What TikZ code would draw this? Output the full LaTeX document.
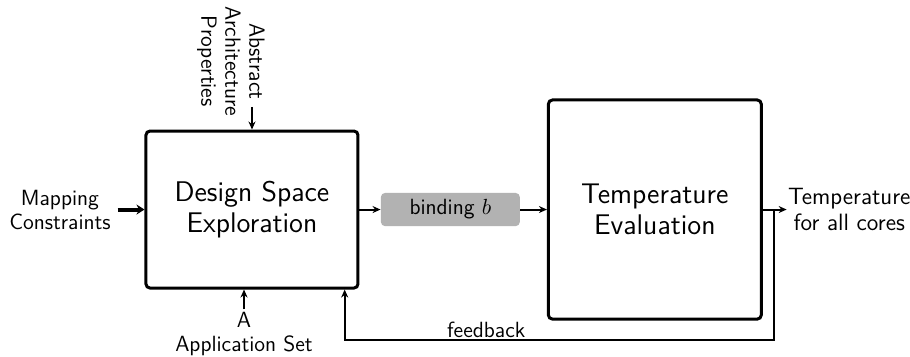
\documentclass[tikz,border=0pt]{standalone}
\usetikzlibrary{positioning, arrows.meta}

\begin{document}
\begin{tikzpicture}[
    font=\sffamily\fontsize{11}{12}\selectfont,
    stage/.style={rectangle, draw, line width=1.5pt, rounded corners=2pt,
                  align=center, font=\sffamily\fontsize{14.2}{15.5}\selectfont},
    tag/.style={rectangle, fill=black!30, rounded corners=2pt,
                minimum width=2.44cm, minimum height=0.545cm},
    arrow/.style={-{Stealth[length=4pt, width=3.5pt]}, line width=1pt},
    fatarrow/.style={-{Stealth[length=4pt, width=5pt]}, line width=2pt},
  ]
  \useasboundingbox (-4.428,-2.574) rectangle (11.563,3.682);
  \node[stage, minimum width=3.725cm, minimum height=2.759cm] (dse) at (0,0) {Design Space\\Exploration};
  \node[tag, right=0.37cm of dse] (bind) {binding $b$};
  \node[stage, minimum width=3.74cm, minimum height=3.85cm, right=0.47cm of bind] (temp) {Temperature\\Evaluation};
  \node[left=0.47cm of dse, align=center] (map) {Mapping\\Constraints};
  \node[right=0.42cm of temp, align=center, inner sep=0.5pt,
        font=\sffamily\fontsize{11.8}{13}\selectfont] (tout) {Temperature\\for all cores};
  \node[below=0.35cm of dse, xshift=-0.14cm, align=center, inner sep=1pt] (app) {A\\Application Set};
  \coordinate[above=0.4cm of dse.north] (archin);
  \node[rotate=-90, align=center, inner sep=1pt] (arch) at ([xshift=-0.37cm, yshift=0.8cm]archin) {Abstract\\Architecture\\Properties};
  % inputs and outputs
  \draw[fatarrow] (map) -- (dse);
  \draw[arrow] (archin) -- (dse.north);
  \draw[arrow] (app.north) -- (app.north |- dse.south);
  \draw[arrow] (dse) -- (bind);
  \draw[arrow] (bind) -- (temp);
  \draw[arrow] (temp) -- (tout);
  % feedback loop
  \coordinate[below right=2.3cm and 0.19cm of temp.east] (fbturn);
  \coordinate[left=0.26cm of dse.south east] (fbend);
  \draw[arrow] (fbturn |- temp.east) -- (fbturn)
        -- node[above, pos=0.67, inner sep=1pt] {feedback} (fbturn -| fbend) -- (fbend);
\end{tikzpicture}
\end{document}
